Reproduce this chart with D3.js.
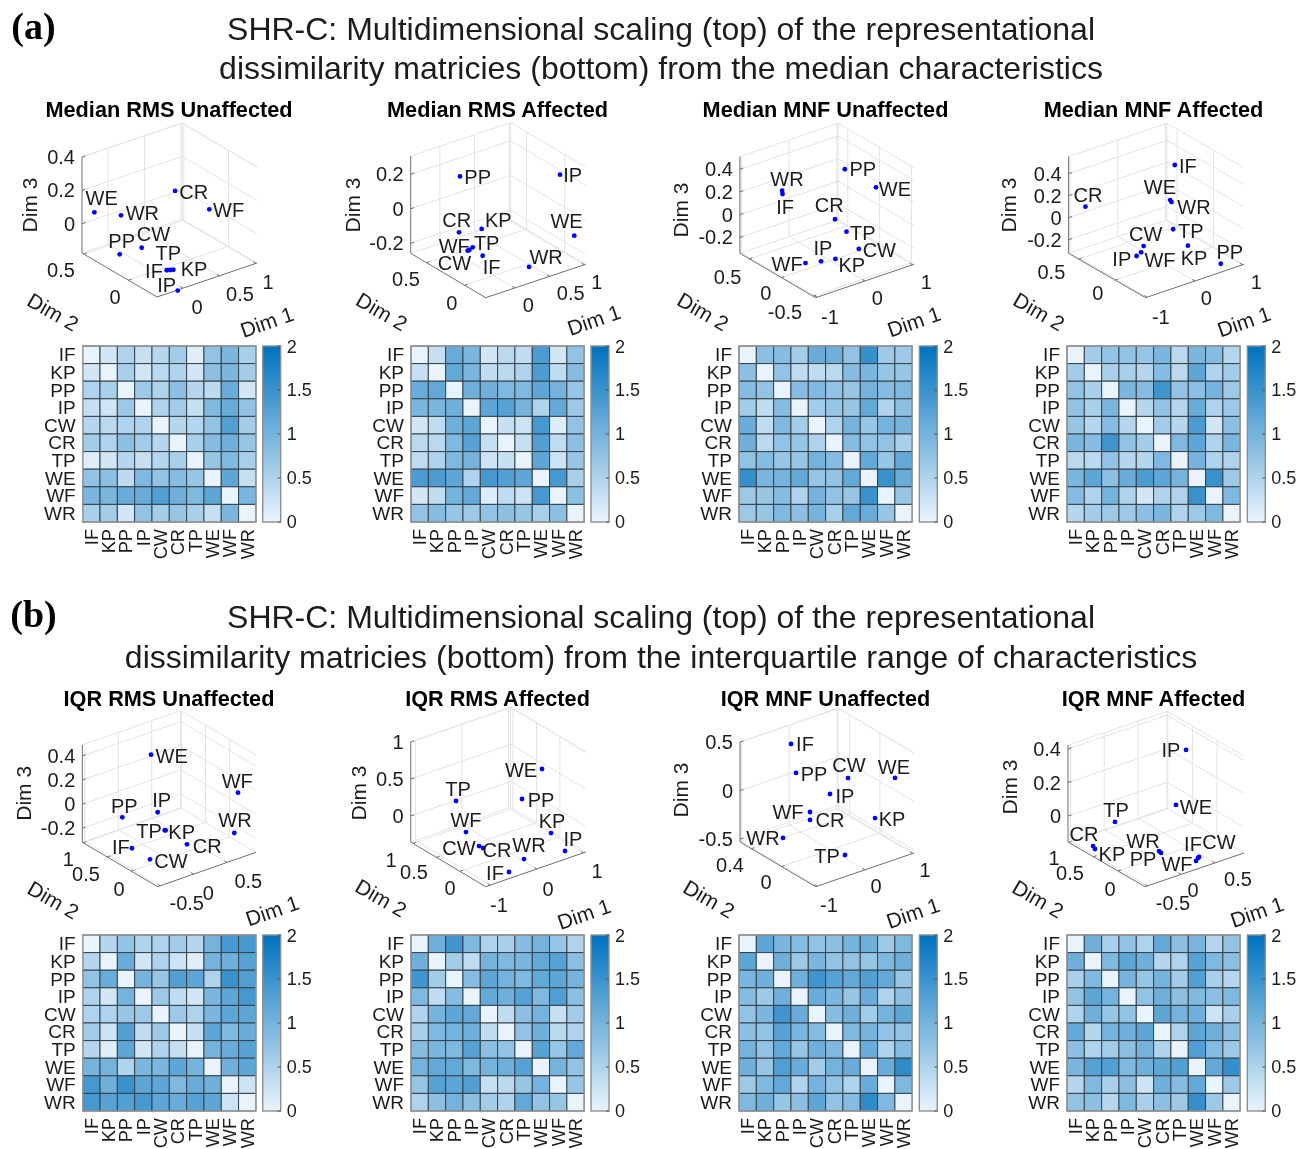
<!DOCTYPE html>
<html><head><meta charset="utf-8"><style>html,body{margin:0;background:#fff}svg{display:block;filter:blur(.4px)}text{font-family:"Liberation Sans",Arial,sans-serif;fill:#1c1c1c}</style></head>
<body><svg id="fig" width="1311" height="1149"></svg>
<script src="https://d3js.org/d3.v7.min.js"></script>
<script>
// ---------- DATA ----------
const muscles = ['IF','KP','PP','IP','CW','CR','TP','WE','WF','WR'];
const panelTitles = ['Median RMS Unaffected','Median RMS Affected','Median MNF Unaffected','Median MNF Affected',
                     'IQR RMS Unaffected','IQR RMS Affected','IQR MNF Unaffected','IQR MNF Affected'];
const figureLetters = ['(a)','(b)'];
const figureTitlesA = ['SHR-C: Multidimensional scaling (top) of the representational','dissimilarity matricies (bottom) from the median characteristics'];
const figureTitlesB = ['SHR-C: Multidimensional scaling (top) of the representational','dissimilarity matricies (bottom) from the interquartile range of characteristics'];

// MDS coordinates, in the order of `muscles`
const a1Dim1=[-.079,.001,-.204,-.072,-.062,.492,-.039,-.259,.643,-.053];
const a1Dim2=[-.202,-.211,.222,-.320,.092,.171,-.207,.461,-.089,.331];
const a1Dim3=[-.093,-.099,-.112,-.179,-.053,.180,-.096,.073,.129,.065];
const a2Dim1=[-.118,.084,.052,.844,-.132,-.043,-.094,.926,-.145,.312];
const a2Dim2=[.040,.236,.490,-.098,.201,.417,.192,-.210,.211,-.176];
const a2Dim3=[-.138,-.061,.181,.239,-.145,-.111,-.132,-.096,-.150,-.204];
const a3Dim1=[-.526,-.315,.565,-.585,.199,.058,.148,.583,-.712,-.535];
const a3Dim2=[.358,-.314,.198,-.290,-.296,-.028,-.141,-.278,-.141,.358];
const a3Dim3=[.206,-.176,.321,-.166,-.167,.027,-.058,.316,-.212,.236];
const a4Dim1=[.622,.218,.623,-.631,-.476,-.831,.118,.202,-.561,.189];
const a4Dim2=[.264,-.181,-.367,-.033,-.028,.539,-.044,.052,-.049,.025];
const a4Dim3=[.379,-.126,-.279,-.151,-.085,.109,-.014,.203,-.122,.197];
const b1Dim1=[-.359,-.058,-.199,.037,-.360,.114,-.067,.264,.781,.748];
const b1Dim2=[.235,-.047,.657,.250,-.141,-.250,-.039,.703,-.383,-.352];
const b1Dim3=[-.216,-.059,-.090,.002,-.219,-.161,-.059,.329,.169,-.166];
const b2Dim1=[-.535,.594,.269,.686,-.696,-.690,-.545,.570,-.621,-.139];
const b2Dim2=[-.486,-.262,.034,-.470,-.006,-.086,.634,-.094,.346,-.414];
const b2Dim3=[-.300,-.104,.315,-.288,-.095,-.093,.239,.703,-.055,-.238];
const b3Dim1=[-.144,.570,-.324,.055,.345,-.348,-.218,.806,-.261,-.716];
const b3Dim2=[.435,-.225,.255,.045,-.010,.055,-.325,-.340,.110,.180];
const b3Dim3=[.383,-.196,.198,.014,.155,-.190,-.398,.230,-.148,-.371];
const b4Dim1=[.323,-.469,-.106,.717,.344,-.458,-.166,.362,.276,-.119];
const b4Dim2=[-.445,.563,-.281,.336,-.438,.617,.571,.055,-.469,-.258];
const b4Dim3=[-.119,-.129,-.058,.339,-.117,-.122,-.010,.107,-.126,-.049];

// Axis tick values
const a1Ticks=[[0,.5,1],[0,.5],[0,.2,.4]];
const a2Ticks=[[0,.5,1],[0,.5],[-.2,0,.2]];
const a3Ticks=[[-1,0,1],[-.5,0,.5],[-.2,0,.2,.4]];
const a4Ticks=[[-1,0,1],[0,.5],[-.2,0,.2,.4]];
const b1Ticks=[[-.5,0,.5],[0,.5,1],[-.2,0,.2,.4]];
const b2Ticks=[[-1,0,1],[0,.5,1],[0,.5,1]];
const b3Ticks=[[-1,0,1],[0,.4],[-.5,0,.5]];
const b4Ticks=[[-.5,0,.5],[0,.5,1],[0,.2,.4]];

// Dissimilarity matrices: upper triangle, row by row (diagonal = 0)
const a1Rdm=[[.2,.5,.3,.45,.6,.08,.75,.95,.55],[.55,.22,.4,.5,.2,.8,.95,.6],[.65,.5,.8,.45,.38,1.1,.2],[.5,.6,.3,.9,1.1,.75],[.45,.45,.75,1.3,.6],[.55,.85,1.05,.7],[.7,.9,.55],[1.2,.3],[.95]];
const a2Rdm=[[.3,1.1,.95,.2,.4,.35,1.35,.2,.75],[1.15,.95,.35,.4,.5,1.35,.35,.85],[1.05,1.05,.9,.9,1.2,1,.7],[1.2,1.25,1,.5,1.15,.65],[.3,.25,1.4,.1,.75],[.3,1.3,.35,.8],[1.2,.25,.7],[1.4,.55],[.8]];
const a3Rdm=[[.8,.85,.6,1.1,1.05,.75,1.55,.65,.65],[.75,.35,.35,.4,.85,.95,.7,.7],[.85,.9,.75,.7,1,.85,.9],[.6,.7,.7,1.15,.5,.8],[.5,1,.7,1,1],[.85,.75,.75,.55],[1.15,.7,1.15],[1.5,1.1],[.7]];
const a4Rdm=[[.6,.75,.75,.7,.95,.4,.95,.85,.45],[.55,.55,.45,.85,.4,1.2,.5,.6],[.95,.85,1.45,.75,.8,1,.65],[.45,.75,.45,1.1,.5,.65],[.6,.45,1.35,.2,.8],[.9,1.2,.5,.95],[1,.5,.5],[1.5,.65],[.9]];
const b1Rdm=[[.45,.75,.5,.5,.6,.45,1,1.4,1.4],[1.1,.2,.5,.25,.08,1,1.05,1.25],[1,.7,1.3,1.2,.5,1.5,1.3],[.65,.35,.2,.95,1.2,1.4],[.65,.5,.95,1.2,1.2],[.3,1.2,.9,1.1],[1,1.1,1.25],[1.05,1.2],[.25]];
const b2Rdm=[[1.05,1.45,.9,.5,.55,.85,1,.7,.5],[.6,.35,1,.9,.95,1.15,1.25,.8],[.85,1.2,1,.9,1.15,1.2,1],[1.15,1.05,1.25,.9,1.3,.8],[.35,.8,1,.3,.6],[.75,1.05,.4,.5],[1.25,.7,1.15],[1,.75],[.7]];
const b3Rdm=[[1.2,.95,.85,.75,.8,1,1.05,.65,.9],[1.05,.65,.95,.75,.75,.7,.9,1.05],[1.05,1.45,1.25,1.15,1.3,1.15,.7],[1.1,.95,.7,1.1,.5,.8],[.85,1.05,.6,1,1.2],[.9,1,.75,.75],[1.1,.5,.85],[1.1,1.6],[.9]];
const b4Rdm=[[1.05,.55,.75,.5,1.15,.8,.95,.45,.75],[.9,1.2,1.05,.45,.5,1.25,.9,.8],[1,.7,1,.6,1.3,.55,.45],[.75,1.05,.8,.9,.8,.9],[1.2,1,1.05,.25,.55],[.5,1.2,1.05,.8],[1.3,.85,.65],[1.15,1.55],[.65]];
const colorbarTicks=[0,.5,1,1.5,2];

// ---------- LAYOUT ----------
const panels=[
 {t:panelTitles[0],cx:169,ty:109.5,L:[82,253],B:[157,297],R:[257,263],top:157,d1:[-.356,1.014],d2:[-.32,.52],d3:[-.175,.4],D1:a1Dim1,D2:a1Dim2,D3:a1Dim3,ticks:a1Ticks,
  p1:[[197,307],[240,294],[268,282]],p2:[[115,297],[61,270]],lab:[[30,205],[53,312],[267,322]],
  off:[[-12.7,.7],[20.7,-1],[2,-13.7],[-11,-5.7],[11.7,-13.3],[18.7,1.3],[-1.7,-16.7],[7.3,-14.7],[19.3,.7],[21.3,-2]],hx:82.7,hy:346,bx:262.7},
 {t:panelTitles[1],cx:497.5,ty:109.5,L:[410.7,253.3],B:[485.7,297.7],R:[585.7,264.3],top:156,d1:[-.42,1.02],d2:[-.274,.706],d3:[-.258,.306],D1:a2Dim1,D2:a2Dim2,D3:a2Dim3,ticks:a2Ticks,
  p1:[[528.3,305],[570.7,293.3],[596.7,281.7]],p2:[[451.7,302.7],[406,279.3]],lab:[[352.7,205],[381.7,311.7],[594,320]],
  off:[[9,11.6],[16.7,-9],[17.7,.3],[12.7,.7],[-15,13.3],[-2.3,-12.3],[14,-4.6],[-7.7,-15],[-13.4,-5],[17,-10.3]],hx:411,hy:346,bx:591},
 {t:panelTitles[2],cx:825.5,ty:109.5,L:[739.9,253.3],B:[815.7,297.7],R:[914,264.3],top:156.7,d1:[-1.03,1.03],d2:[-.54,.65],d3:[-.341,.511],D1:a3Dim1,D2:a3Dim2,D3:a3Dim3,ticks:a3Ticks,
  p1:[[830,316.7],[877.2,298.3],[926.4,281.7]],p2:[[785,311.7],[765.7,293.3],[727.6,276.7]],lab:[[681,210],[703,311.7],[914,321.7]],
  off:[[2.5,13.3],[16.4,6],[18,0],[2,-13],[20.5,1],[-5.7,-14.3],[16.4,1],[18.9,2],[-18.4,1.3],[4.9,-11.3]],hx:739,hy:346,bx:919.3},
 {t:panelTitles[3],cx:1153.5,ty:109.5,L:[1068.6,253.3],B:[1145.7,297.7],R:[1244,264.3],top:156.7,d1:[-1.03,1.03],d2:[-.42,.64],d3:[-.324,.555],D1:a4Dim1,D2:a4Dim2,D3:a4Dim3,ticks:a4Ticks,
  p1:[[1160.8,316.7],[1206.3,298.3],[1256.3,281.7]],p2:[[1097.7,293.3],[1051.4,271.7]],lab:[[1009,205],[1039,311.7],[1244,321.7]],
  off:[[13.1,1],[6.1,12.7],[9,-12],[-14.8,3],[2,-12],[2.5,-11.7],[17.6,1.3],[-10.2,-12.7],[18.9,7.7],[22.5,4.7]],hx:1067,hy:346,bx:1247.3},
 {t:panelTitles[4],cx:169,ty:698.5,L:[82.3,842.3],B:[157.7,886.7],R:[256,852.3],top:745,d1:[-.538,.932],d2:[-.547,1.016],d3:[-.316,.491],D1:b1Dim1,D2:b1Dim2,D3:b1Dim3,ticks:b1Ticks,
  p1:[[186.7,902.7],[208.3,892.7],[248.3,880.7]],p2:[[119,889],[86,874],[68.3,859.3]],lab:[[24,793.3],[53.3,900],[272.3,910.7]],
  off:[[-11,-1.7],[16,1.3],[2,-11.7],[4,-12.3],[21,1.3],[20.3,1.3],[-15.7,.3],[20.7,1],[-.7,-12],[.7,-13]],hx:82.7,hy:935,bx:262.7},
 {t:panelTitles[5],cx:497.5,ty:698.5,L:[410.7,842],B:[485.7,886.7],R:[585.7,852],top:742,d1:[-1.1,1.05],d2:[-.55,1.05],d3:[-.351,1],D1:b2Dim1,D2:b2Dim2,D3:b2Dim3,ticks:b2Ticks,
  p1:[[499,905],[548,889],[597,871]],p2:[[450,888],[414,872],[391,860]],lab:[[359,793],[381,898],[584,914]],
  off:[[-14,1],[1,-12],[19,1],[8,-12],[-20,2],[14,2],[2,-12],[-21,1],[0,-12],[5,-14]],hx:411,hy:935,bx:591},
 {t:panelTitles[6],cx:825.5,ty:698.5,L:[740,842],B:[815.7,886.7],R:[914,853],top:742,d1:[-1.03,1.03],d2:[-.45,.55],d3:[-.53,.5],D1:b3Dim1,D2:b3Dim2,D3:b3Dim3,ticks:b3Ticks,
  p1:[[829,905],[876,886],[925,870]],p2:[[766,882],[730,865]],lab:[[681,790],[709,899],[913,913]],
  off:[[14,0],[17,1],[18,1],[15,2],[1,-13],[20,0],[-18,1],[-1,-11],[-22,0],[-20,0]],hx:739,hy:935,bx:919.3},
 {t:panelTitles[7],cx:1153.5,ty:698.5,L:[1068,842],B:[1145,886.7],R:[1244,853],top:745,d1:[-.538,.932],d2:[-.547,1.016],d3:[-.155,.424],D1:b4Dim1,D2:b4Dim2,D3:b4Dim3,ticks:b4Ticks,
  p1:[[1173,903],[1193,890],[1238,879]],p2:[[1110,889],[1070,873],[1054,858]],lab:[[1010,787],[1038,899],[1257,912]],
  off:[[-5,-14],[17,5],[-18,6],[-15,0],[20,-15],[-9,-12],[1,-12],[20,2],[-19,3],[-16,-10]],hx:1067,hy:935,bx:1247.3}
];
[a1Rdm,a2Rdm,a3Rdm,a4Rdm,b1Rdm,b2Rdm,b3Rdm,b4Rdm].forEach((m,i)=>panels[i].rdm=m);

const svg=d3.select('#fig');
const color=d3.scaleLinear().domain([0,2]).range(['#e9f3fb','#0072bd']);
const FS=20, HW=173.2, HH=176, BW=18, GRID='#e3e3e3', AXIS='#6f6f6f';
const fmt=v=>String(+v.toFixed(2));

function label(g,x,y,txt,o={}){
  return g.append('text').attr('transform',`translate(${x},${y}) rotate(${o.rot||0})`)
    .attr('text-anchor',o.anchor||'middle').attr('dy','.35em').style('font-size',(o.size||FS)+'px')
    .style('font-weight',o.weight||null).style('font-family',o.family||null).text(txt);
}

// Figure headings
[[0,29,68,figureTitlesA],[1,617,657,figureTitlesB]].forEach(([i,y1,y2,ts])=>{
  label(svg,33.5,y1-3,figureLetters[i],{size:38,weight:'bold',family:'"Liberation Serif",serif'}).style('fill','#000');
  label(svg,661,y1-.5,ts[0],{size:32});
  label(svg,661,y2-.5,ts[1],{size:32});
});

panels.forEach(P=>{
  const g=svg.append('g');
  label(g,P.cx,P.ty,P.t,{size:21.7,weight:'bold'}).style('fill','#000');

  // 3D projection built from three linear scales
  const s1=d3.scaleLinear().domain(P.d1).range([0,1]),
        s2=d3.scaleLinear().domain(P.d2).range([0,1]),
        s3=d3.scaleLinear().domain(P.d3).range([0,1]);
  const U=[P.R[0]-P.B[0],P.R[1]-P.B[1]],V=[P.L[0]-P.B[0],P.L[1]-P.B[1]],H=P.L[1]-P.top;
  const nproj=(p,q,r)=>[P.B[0]+p*U[0]+q*V[0],P.B[1]+p*U[1]+q*V[1]-r*H];
  const proj=(a,b,c)=>nproj(s1(a),s2(b),s3(c));
  const line=d3.line();
  const stroke=(pts,col,w=1)=>g.append('path').attr('d',line(pts)).attr('fill','none').attr('stroke',col).attr('stroke-width',w);

  // Walls and floor grid
  const [t1,t2,t3]=P.ticks;
  t1.forEach(v=>{const p=s1(v);stroke([nproj(p,0,0),nproj(p,1,0),nproj(p,1,1)],GRID)});
  t2.forEach(v=>{const q=s2(v);stroke([nproj(0,q,0),nproj(1,q,0),nproj(1,q,1)],GRID)});
  t3.forEach(v=>{const r=s3(v);stroke([nproj(0,1,r),nproj(1,1,r),nproj(1,0,r)],GRID)});
  stroke([nproj(0,1,1),nproj(1,1,1),nproj(1,0,1)],GRID);
  stroke([nproj(0,1,0),nproj(1,1,0),nproj(1,0,0)],GRID);
  stroke([nproj(1,1,0),nproj(1,1,1)],GRID);

  // Axes and ticks
  stroke([nproj(0,1,1),nproj(0,1,0),nproj(0,0,0),nproj(1,0,0)],AXIS);
  t1.forEach(v=>stroke([nproj(s1(v),0,0),nproj(s1(v),.035,0)],AXIS));
  t2.forEach(v=>stroke([nproj(0,s2(v),0),nproj(.03,s2(v),0)],AXIS));
  t3.forEach(v=>stroke([nproj(0,1,s3(v)),nproj(.035,1,s3(v))],AXIS));

  // Tick labels
  t1.forEach((v,i)=>label(g,P.p1[i][0],P.p1[i][1],fmt(v)));
  t2.forEach((v,i)=>label(g,P.p2[i][0],P.p2[i][1],fmt(v)));
  t3.forEach(v=>label(g,P.L[0]-7,nproj(0,1,s3(v))[1],fmt(v),{anchor:'end'}));
  label(g,P.lab[0][0],P.lab[0][1],'Dim 3',{rot:-90,size:21});
  label(g,P.lab[1][0],P.lab[1][1],'Dim 2',{rot:30,size:21});
  label(g,P.lab[2][0],P.lab[2][1],'Dim 1',{rot:-19,size:21});

  // Points
  muscles.forEach((m,i)=>{
    const [x,y]=proj(P.D1[i],P.D2[i],P.D3[i]);
    g.append('circle').attr('cx',x).attr('cy',y).attr('r',2.4).attr('fill','#0000ff');
    label(g,x+P.off[i][0],y+P.off[i][1],m);
  });

  // Heatmap
  const x=d3.scaleBand().domain(muscles).range([P.hx,P.hx+HW]);
  const y=d3.scaleBand().domain(muscles).range([P.hy,P.hy+HH]);
  const val=(a,b)=>{if(a===b)return 0;const i=Math.min(a,b),j=Math.max(a,b);return P.rdm[i][j-i-1]};
  const cells=muscles.flatMap((r,i)=>muscles.map((c,j)=>({r,c,v:val(i,j)})));
  g.selectAll('rect.cell').data(cells).join('rect').attr('class','cell')
    .attr('x',d=>x(d.c)).attr('y',d=>y(d.r)).attr('width',x.bandwidth()).attr('height',y.bandwidth())
    .attr('fill',d=>color(d.v)).attr('stroke','#35424c').attr('stroke-width',1);
  g.append('rect').attr('x',P.hx).attr('y',P.hy).attr('width',HW).attr('height',HH)
    .attr('fill','none').attr('stroke','#9c9c9c').attr('stroke-width',1.4);
  muscles.forEach(m=>{
    label(g,P.hx-7,y(m)+y.bandwidth()/2,m,{anchor:'end',size:19});
    label(g,x(m)+x.bandwidth()/2,P.hy+HH+7,m,{anchor:'end',rot:-90,size:18.2});
  });

  // Colorbar
  const cb=d3.scaleLinear().domain([0,2]).range([P.hy+HH,P.hy]);
  const id='grad'+Math.round(P.bx)+P.hy;
  svg.append('defs').append('linearGradient').attr('id',id).attr('x1',0).attr('x2',0).attr('y1',1).attr('y2',0)
    .selectAll('stop').data(colorbarTicks).join('stop').attr('offset',d=>d/2).attr('stop-color',d=>color(d));
  g.append('rect').attr('x',P.bx).attr('y',P.hy).attr('width',BW).attr('height',HH)
    .attr('fill',`url(#${id})`).attr('stroke','#8f8f8f').attr('stroke-width',1.4);
  colorbarTicks.forEach(v=>{
    stroke([[P.bx+BW-3,cb(v)],[P.bx+BW,cb(v)]],'#555');
    label(g,P.bx+BW+6,cb(v)+(v===2?1:0),fmt(v),{anchor:'start',size:18});
  });
});
</script></body></html>
